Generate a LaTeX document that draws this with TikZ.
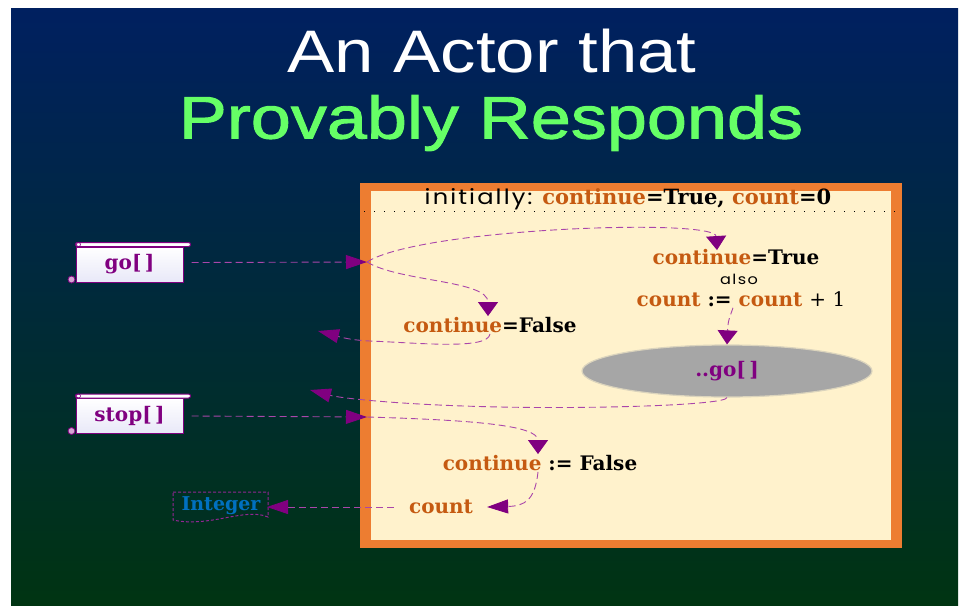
\documentclass[tikz,border=0pt]{standalone}
\usepackage{fontspec}
\setmainfont{DejaVu Serif}
\newfontfamily\headfont[FakeStretch=1.18]{Liberation Sans}
\newfontfamily\headboldfont[FakeStretch=1.2,FakeBold=1.6]{Liberation Sans}
\newfontfamily\notefont[FakeStretch=1.15,LetterSpace=10]{Poppins}
\usetikzlibrary{arrows.meta,shapes.geometric}

\definecolor{bgtop}{RGB}{0,32,96}
\definecolor{bgbottom}{RGB}{0,52,18}
\definecolor{boxorange}{RGB}{237,125,49}
\definecolor{boxfill}{RGB}{255,242,204}
\definecolor{varcol}{RGB}{197,90,17}
\definecolor{msgcol}{RGB}{128,0,128}
\definecolor{dashcol}{RGB}{170,70,170}
\definecolor{intcol}{RGB}{0,112,192}
\definecolor{titlegreen}{RGB}{102,255,102}
\definecolor{ovalgray}{RGB}{166,166,166}

\newcommand{\vname}[1]{\textcolor{varcol}{#1}}	%variable names in orange

\tikzset{
	flow/.style={dashcol, line width=0.9pt, dash pattern=on 7pt off 4pt},
	htip/.style={-{Triangle[length=21pt,width=14pt,color=msgcol]}},
	vtip/.style={-{Triangle[length=14pt,width=20pt,color=msgcol]}},
	stmt/.style={font=\fontsize{20}{22}\selectfont\bfseries, inner sep=1pt},
	scroll/.style={draw=msgcol, line width=1pt, top color=white, bottom color={rgb,255:red,232;green,232;blue,248},
		minimum width=107pt, minimum height=35pt, font=\fontsize{20}{22}\selectfont\bfseries, text=msgcol},
}

\begin{document}
\begin{tikzpicture}[x=1pt,y=-1pt]
	\useasboundingbox (0,0) rectangle (960,605);
	\fill[white] (0,0) rectangle (960,605);
	\shade[top color=bgtop, bottom color=bgbottom] (11,8) rectangle (958,605);	%slide
	
	\node[white, font=\headfont\fontsize{60}{60}\selectfont] (title) at (492,51) {An Actor that};
	\node[titlegreen, font=\headboldfont\fontsize{60}{60}\selectfont] (subtitle) at (491,123) {Provably Responds};
	
	%actor box
	\fill[boxorange] (360,183) rectangle (902,548);
	\fill[boxfill] (371,191) rectangle (891,540);
	\node[stmt, font=\fontsize{21}{22}\selectfont\bfseries] (init) at (628,199) {{\notefont\mdseries initially:} \vname{continue}=True, \vname{count}=0};
	\draw[line width=0.9pt, dash pattern=on 1pt off 9pt] (364,211) -- (896,211);
	\coordinate (goin) at (367,262);
	\coordinate (stopin) at (367,417);
	\coordinate (goout) at (318,331);
	\coordinate (loopout) at (310,390);
	
	%statements
	\node[stmt] (ctrue) at (736,257) {\vname{continue}=True};
	\node[font=\notefont\fontsize{14}{16}\selectfont] (also) at (739,279) {also};
	\node[stmt] (cinc) at (741,299) {\vname{count} := \vname{count} {\mdseries + 1}};
	\node[stmt] (cfalse) at (490,325) {\vname{continue}=False};
	\node[ellipse, fill=ovalgray, draw=ovalgray!40!boxfill, line width=1.2pt, minimum width=290pt, minimum height=52pt, text=msgcol,
		font=\fontsize{20}{22}\selectfont\bfseries] (again) at (727,371) {..go[\,]};
	\node[stmt] (cset) at (540,463) {\vname{continue} := False};
	\node[stmt] (cnt) at (441,507) {\vname{count}};
	
	%messages
	\node[scroll] (go) at (129.5,264.5) {go[\,]};
	\draw[draw=msgcol, fill=white, line width=1pt, rounded corners=2pt] (go.north west) rectangle ([xshift=7pt,yshift=4pt]go.north east);
	\draw[msgcol, fill=msgcol!35, line width=0.8pt] ([xshift=-4pt,yshift=3pt]go.south west) circle (3.5pt);
	\draw[msgcol, line width=0.6pt] ([xshift=3pt,yshift=2pt]go.north west) circle (2pt);
	\node[scroll] (stop) at (129.5,416) {stop[\,]};
	\draw[draw=msgcol, fill=white, line width=1pt, rounded corners=2pt] (stop.north west) rectangle ([xshift=7pt,yshift=4pt]stop.north east);
	\draw[msgcol, fill=msgcol!35, line width=0.8pt] ([xshift=-4pt,yshift=3pt]stop.south west) circle (3.5pt);
	\draw[msgcol, line width=0.6pt] ([xshift=3pt,yshift=2pt]stop.north west) circle (2pt);
	
	%reply
	\draw[msgcol!85!white, line width=1pt, dash pattern=on 3pt off 2pt, fill=bgbottom!80!bgtop] (173,492) -- (268,492) -- (268,517)
		.. controls (245,507) and (210,528) .. (173,520) -- cycle;
	\node[text=intcol, font=\fontsize{19}{20}\selectfont\bfseries] (int) at (221,505.5) {Integer};
	
	%flows
	\draw[flow, htip] ([xshift=8pt,yshift=2pt]go.east) -- (goin);
	\draw[flow, vtip] (goin) .. controls (420,228) and (715,218) .. ([xshift=-19pt,yshift=-2pt]ctrue.north);
	\draw[flow, vtip] (goin) .. controls (400,282) and (488,280) .. ([xshift=-2pt]cfalse.north);
	\draw[flow, htip] (cfalse.south) .. controls (488,350) and (420,343) .. (370,341) .. controls (345,340) and (330,334) .. (goout);
	\draw[flow, vtip] ([xshift=-8pt]cinc.south) .. controls (728,322) .. (again.north);
	\draw[flow, htip] (again.south) .. controls (725,405) and (600,409) .. (500,407) .. controls (400,405) and (340,398) .. (loopout);
	\draw[flow, htip] ([xshift=8pt]stop.east) -- (stopin);
	\draw[flow, vtip] (stopin) .. controls (470,420) and (538,425) .. ([xshift=-2pt]cset.north);
	\draw[flow, htip] ([xshift=-2pt]cset.south) .. controls (535,500) and (525,506) .. ([xshift=13pt]cnt.east);
	\draw[flow, htip] ([xshift=-14pt]cnt.west) -- ([xshift=3pt]cnt.west -| int.east);
\end{tikzpicture}
\end{document}
